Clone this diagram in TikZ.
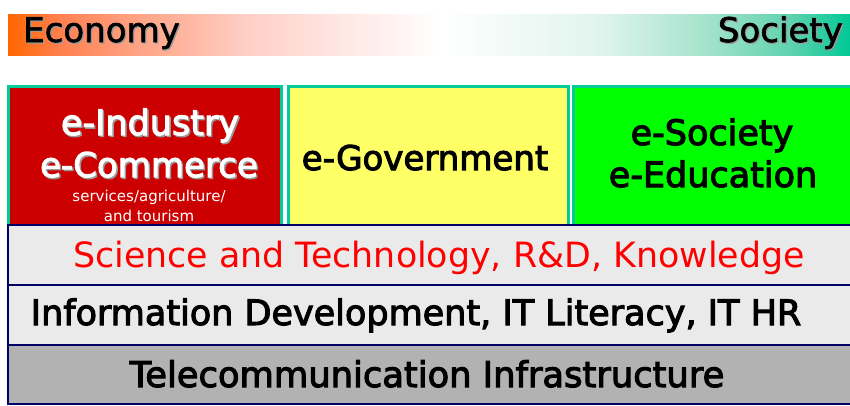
\documentclass[tikz,border=0pt]{standalone}
\usepackage{fontspec}
\setmainfont{DejaVu Sans}
\newfontfamily\fbold{DejaVu Sans}[FakeBold=3]
\newfontfamily\fsemi{DejaVu Sans}[FakeBold=1.8]
\definecolor{orng}{HTML}{FF6600}
\definecolor{teal1}{HTML}{00C896}
\definecolor{gA}{HTML}{FF8050}
\definecolor{gB}{HTML}{FFA080}
\definecolor{gC}{HTML}{FFD0C8}
\definecolor{gD}{HTML}{E0F4EE}
\definecolor{gE}{HTML}{A8E4CE}
\definecolor{gF}{HTML}{60D2AE}
\definecolor{frame}{HTML}{00CC99}
\definecolor{redbox}{HTML}{CC0000}
\definecolor{yelbox}{HTML}{FFFF66}
\definecolor{grnbox}{HTML}{00FF00}
\definecolor{navy}{HTML}{000066}
\definecolor{lgray}{HTML}{EAEAEA}
\definecolor{dgray}{HTML}{B2B2B2}
\definecolor{shad}{HTML}{999999}
\pgfdeclarehorizontalshading{ecosoc}{100bp}{%
  color(0bp)=(orng); color(25bp)=(orng); color(28.09bp)=(gA);
  color(32.24bp)=(gB); color(39.37bp)=(gC); color(50.65bp)=(white);
  color(60.15bp)=(gD); color(66.09bp)=(gE); color(71.44bp)=(gF);
  color(75bp)=(teal1); color(100bp)=(teal1)}
\tikzset{
  topbox/.style={draw=frame, line width=3pt},
  layer/.style={draw=navy, line width=2.5pt},
  txt/.style={inner sep=0pt, anchor=base},
}
\begin{document}
\begin{tikzpicture}[x=1pt,y=-1pt]
\useasboundingbox (0,0) rectangle (850,405);
% gradient bar
\shade[shading=ecosoc] (8,14) rectangle (850,55);
\node[txt, anchor=base west, text=shad, font=\fontsize{34}{36}\fsemi] (econs) at (24.2,43.2) {Economy};
\node[txt, anchor=base west, font=\fontsize{34}{36}\fsemi] (econ) at (23,42) {Economy};
\node[txt, anchor=base east, text=shad, font=\fontsize{34}{36}\fsemi] (socs) at (844.2,43.2) {Society};
\node[txt, anchor=base east, font=\fontsize{34}{36}\fsemi] (soc) at (843,42) {Society};
% top boxes
\draw[topbox, fill=redbox] (8.5,86.5) rectangle (281.5,240);
\draw[topbox, fill=yelbox] (288.5,86.5) rectangle (568.5,240);
\draw[topbox, fill=grnbox] (573.5,86.5) rectangle (860,240);
% layers
\draw[layer, fill=lgray] (8,225) rectangle (860,285);
\draw[layer, fill=lgray] (8,285) rectangle (860,345);
\draw[layer, fill=dgray] (8,345) rectangle (860,404);
% texts red box
\node[txt, text=shad, font=\fontsize{35}{36}\fbold] (eis) at (151.5,136.5) {e-Industry};
\node[txt, text=white, font=\fontsize{35}{36}\fbold] (ei) at (150,135) {e-Industry};
\node[txt, text=shad, font=\fontsize{34}{36}\fbold] (ecs) at (150.5,178.5) {e-Commerce};
\node[txt, text=white, font=\fontsize{34}{36}\fbold] (ec) at (149,177) {e-Commerce};
\node[txt, text=white, font=\fontsize{15}{16}\selectfont] (serv) at (149,201) {services/agriculture/};
\node[txt, text=white, font=\fontsize{15}{16}\selectfont] (tour) at (149,221) {and tourism};
% yellow
\node[txt, font=\fontsize{34}{36}\fbold] (egov) at (425,170) {e-Government};
% green
\node[txt, font=\fontsize{35}{36}\fbold] (esoc) at (712,145) {e-Society};
\node[txt, font=\fontsize{35}{36}\fbold] (eedu) at (713,187) {e-Education};
% layers text
\node[txt, text=red, font=\fontsize{34.8}{36}\selectfont] (sci) at (439,267) {Science and Technology, R\&D, Knowledge};
\node[txt, font=\fontsize{35}{36}\fbold] (info) at (416,325) {Information Development, IT Literacy, IT HR};
\node[txt, font=\fontsize{35.3}{36}\fbold] (tele) at (427,387) {Telecommunication Infrastructure};
\end{tikzpicture}
\end{document}
